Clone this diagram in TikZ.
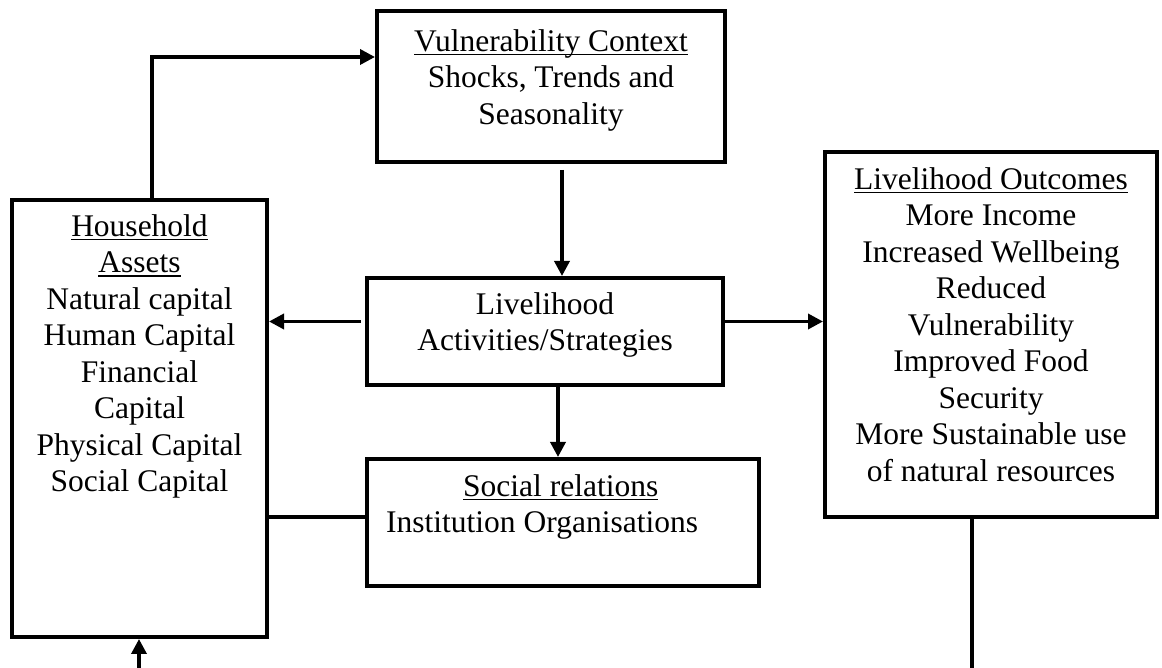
\documentclass[tikz,border=0pt]{standalone}
\usepackage{fontspec}
\setmainfont{Liberation Serif}
\usepackage{tikz}
\usetikzlibrary{calc, positioning, arrows.meta}
\newcommand{\uln}[1]{\setbox0\hbox{#1}\rlap{\rule[-4pt]{\wd0}{1.5pt}}\box0}
\tikzset{
    box/.style={rectangle, draw=black, line width=4pt, fill=white},
    txt/.style={align=center, inner sep=0pt, font=\fontsize{31.5}{36.5}\selectfont},
    arrow/.style={-{Triangle[length=15pt, width=15pt]}, line width=3.5pt},
    link/.style={line width=3.5pt}
}

\begin{document}
\begin{tikzpicture}[x=1pt, y=1pt]
    \useasboundingbox (0,0) rectangle (1162,668);

    % Boxes
    \node[box, minimum width=348pt, minimum height=151pt] (vul) at (551,581.5) {};
    \node[box, minimum width=255pt, minimum height=437pt] (hh) at (139.5,249.5) {};
    \node[box, minimum width=356pt, minimum height=107pt] (act) at (545,336.5) {};
    \node[box, minimum width=392pt, minimum height=127pt] (soc) at (563,145.5) {};
    \node[box, minimum width=332pt, minimum height=365pt] (out) at (991,333.5) {};

    % Texts
    \node[txt, below=20pt of vul.north] (vultxt) {\uln{Vulnerability Context}\\Shocks, Trends and\\Seasonality};
    \node[txt, below=16pt of hh.north] (hhtxt) {\uln{Household}\\\uln{Assets}\\Natural capital\\Human Capital\\Financial\\Capital\\Physical Capital\\Social Capital};
    \node[txt, below=16pt of act.north] (acttxt) {Livelihood\\Activities/Strategies};
    \node[txt, align=left, below right=17pt and 21pt of soc.north west] (soctxt) {\hspace*{77pt}\uln{Social relations}\\Institution Organisations};
    \node[txt, below=17pt of out.north] (outtxt) {\uln{Livelihood Outcomes}\\More Income\\Increased Wellbeing\\Reduced\\Vulnerability\\Improved Food\\Security\\More Sustainable use\\of natural resources};

    % Connectors
    \coordinate (bend) at (152,611);
    \draw[arrow] (hh.north -| bend) -- (bend) -- (bend -| vul.west);

    \coordinate (vx) at ([xshift=11pt, yshift=-6pt]vul.south);
    \draw[arrow] (vx) -- (vx |- act.north);

    \draw[arrow] ([xshift=-4pt, yshift=10pt]act.west) -- ([yshift=10pt]act.west -| hh.east);
    \draw[arrow] ([yshift=10pt]act.east) -- ([yshift=10pt]act.east -| out.west);
    \draw[arrow] ([xshift=13pt]act.south) -- ([xshift=13pt]act.south |- soc.north);
    \draw[link] ([yshift=5.5pt]soc.west) -- ([yshift=5.5pt]soc.west -| hh.east);

    \coordinate (in) at (139,0);
    \draw[arrow] (in) -- (in |- hh.south);
    \coordinate (down) at (972,0);
    \draw[link] (down |- out.south) -- (down);
\end{tikzpicture}
\end{document}
